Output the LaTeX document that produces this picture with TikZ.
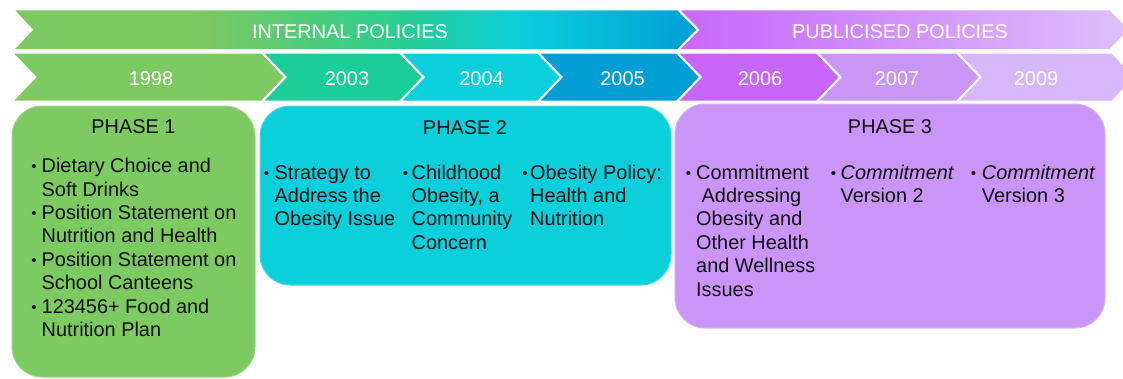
\documentclass[tikz,border=0pt]{standalone}
\usepackage{fontspec}
\setmainfont{Liberation Sans}
% palette
\definecolor{ink}{HTML}{111111}
\definecolor{cGreen}{HTML}{7DC962}
\definecolor{cTeal}{HTML}{19CF97}
\definecolor{cCyan}{HTML}{0BCFDB}
\definecolor{cBlue}{HTML}{029DD3}
\definecolor{cPurple}{HTML}{C866FA}
\definecolor{cLilac}{HTML}{C996F6}
\definecolor{cPale}{HTML}{D7B7F9}
\definecolor{cPhaseA}{HTML}{7DC962}
\definecolor{cPhaseB}{HTML}{0BCFDB}
\definecolor{cPhaseC}{HTML}{C996F8}
% small bullet hanging to the left of a list column (gap given in pt)
\newcommand{\blt}[1]{\llap{\raisebox{0.8pt}{\fontsize{15}{15}\selectfont\textbullet}\hspace{#1pt}}}
\begin{document}
\begin{tikzpicture}[x=1pt,y=-1pt,
  band/.style={font=\fontsize{19.9}{23.4}\selectfont, text=white, inner sep=0pt, anchor=base},
  ttl/.style={font=\fontsize{19.9}{23.4}\selectfont, text=ink, inner sep=0pt, anchor=base},
  lst/.style={font=\fontsize{19.9}{23.4}\selectfont, text=ink, inner sep=0pt, anchor=base west},
  sepline/.style={draw=white, line width=2pt, line join=miter},
  phasebox/.style={rounded corners=30pt, line width=1pt}
]
\useasboundingbox (0,0) rectangle (1123,378);
\clip (0,0) rectangle (1123,378);

% ---- top band: internal policies (gradient green -> blue)
\begin{scope}
  \clip (12.7,9.3) -- (678,9.3) -- (698,29.7) -- (678,50) -- (12.7,50) -- (31.7,29.7) -- cycle;
  \fill[cGreen] (0,0) rectangle (201,60);
  \shade[left color=cGreen, right color=cTeal!85!cGreen] (200,0) rectangle (401,60);
  \shade[left color=cTeal!85!cGreen, right color=cCyan] (400,0) rectangle (521,60);
  \shade[left color=cCyan, right color=cBlue] (520,0) rectangle (700,60);
\end{scope}
\draw[sepline] (12.7,9.3) -- (678,9.3) -- (698,29.7) -- (678,50) -- (12.7,50) -- (31.7,29.7) -- cycle;

% ---- top band: publicised policies (gradient purple -> pale lilac)
\begin{scope}
  \clip (678,9.3) -- (1110,9.3) -- (1130,29.7) -- (1110,50) -- (678,50) -- (698,29.7) -- cycle;
  \shade[left color=cPurple, right color=cPurple!80!cPale] (670,0) rectangle (761,60);
  \shade[left color=cPurple!80!cPale, right color=cPale!85!white] (760,0) rectangle (1135,60);
\end{scope}
\draw[sepline] (678,9.3) -- (1110,9.3) -- (1130,29.7) -- (1110,50) -- (678,50) -- (698,29.7) -- cycle;

\node[band] (intl) at (350,38.3) {INTERNAL POLICIES};
\node[band] (publ) at (900,38.3) {PUBLICISED POLICIES};

% ---- year chevrons
\path[fill=cGreen, sepline] (11.7,52.5) -- (262,52.5) -- (285.5,77.1) -- (262,101.7) -- (11.7,101.7) -- (35.2,77.1) -- cycle;
\path[fill=cTeal, sepline] (262,52.5) -- (400,52.5) -- (423.5,77.1) -- (400,101.7) -- (262,101.7) -- (285.5,77.1) -- cycle;
\path[fill=cCyan, sepline] (400,52.5) -- (538,52.5) -- (561.5,77.1) -- (538,101.7) -- (400,101.7) -- (423.5,77.1) -- cycle;
\path[fill=cBlue, sepline] (538,52.5) -- (677,52.5) -- (700.5,77.1) -- (677,101.7) -- (538,101.7) -- (561.5,77.1) -- cycle;
\path[fill=cPurple, sepline] (677,52.5) -- (817,52.5) -- (840.5,77.1) -- (817,101.7) -- (677,101.7) -- (700.5,77.1) -- cycle;
\path[fill=cLilac, sepline] (817,52.5) -- (957,52.5) -- (980.5,77.1) -- (957,101.7) -- (817,101.7) -- (840.5,77.1) -- cycle;
\path[fill=cPale, sepline] (957,52.5) -- (1112,52.5) -- (1135.5,77.1) -- (1112,101.7) -- (957,101.7) -- (980.5,77.1) -- cycle;

\node[band] (y1998) at (151,85) {1998};
\node[band] (y2003) at (347,85) {2003};
\node[band] (y2004) at (481.5,85) {2004};
\node[band] (y2005) at (622.5,85) {2005};
\node[band] (y2006) at (760,85) {2006};
\node[band] (y2007) at (897,85) {2007};
\node[band] (y2009) at (1036,85) {2009};

% ---- phase panels
\path[phasebox, fill=cPhaseA, draw=cPhaseA!75!white] (12,106) rectangle (255,377);
\path[phasebox, fill=cPhaseB, draw=cPhaseB!75!white] (260,106) rectangle (671,285);
\path[phasebox, fill=cPhaseC, draw=cPhaseC!75!white] (675,104) rectangle (1105,328);

\node[ttl] (t1) at (133.5,133.5) {PHASE 1};
\node[ttl] (t2) at (465,134) {PHASE 2};
\node[ttl] (t3) at (890,133.5) {PHASE 3};

\node[lst] (l1) at (41.5,172.7) {\begin{tabular}[t]{@{}l@{}}
  \blt{5}Dietary Choice and\\ Soft Drinks\\
  \blt{5}Position Statement on\\ Nutrition and Health\\
  \blt{5}Position Statement on\\ School Canteens\\
  \blt{5}123456+ Food and\\ Nutrition Plan
\end{tabular}};

\node[lst] (l2a) at (274.5,179) {\begin{tabular}[t]{@{}l@{}}
  \blt{5.7}Strategy to\\ Address the\\ Obesity Issue
\end{tabular}};
\node[lst] (l2b) at (411.5,179) {\begin{tabular}[t]{@{}l@{}}
  \blt{3.7}Childhood\\ Obesity, a\\ Community\\ Concern
\end{tabular}};
\node[lst] (l2c) at (530,179) {\begin{tabular}[t]{@{}l@{}}
  \blt{2.5}Obesity Policy:\\ Health and\\ Nutrition
\end{tabular}};

\node[lst] (l3a) at (696,179) {\begin{tabular}[t]{@{}l@{}}
  \blt{5.2}Commitment\\ \hspace{5.5pt}Addressing\\ Obesity and\\ Other Health\\ and Wellness\\ Issues
\end{tabular}};
\node[lst] (l3b) at (840.5,179) {\begin{tabular}[t]{@{}l@{}}
  \blt{4.7}\textit{Commitment}\\ Version 2
\end{tabular}};
\node[lst] (l3c) at (981.7,179) {\begin{tabular}[t]{@{}l@{}}
  \blt{5.9}\textit{Commitment}\\ Version 3
\end{tabular}};
\end{tikzpicture}
\end{document}
